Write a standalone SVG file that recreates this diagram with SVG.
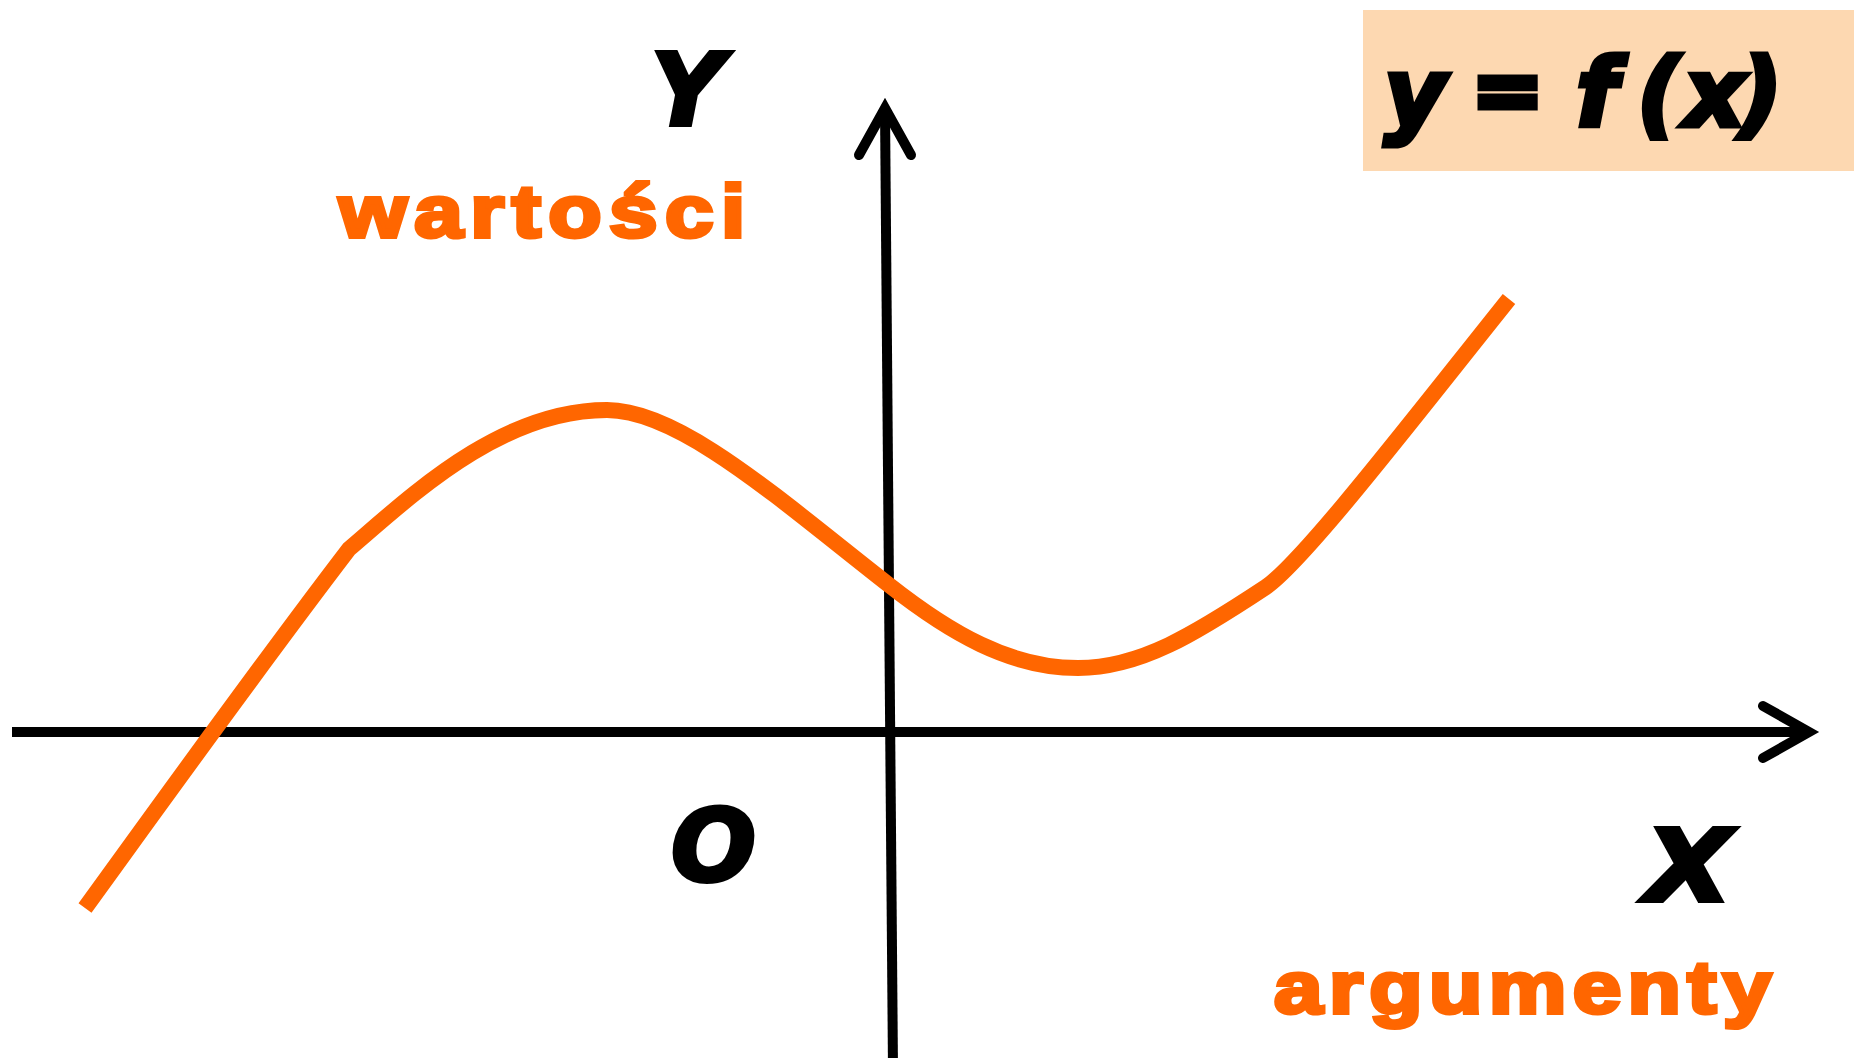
<svg xmlns="http://www.w3.org/2000/svg" width="1854" height="1058" viewBox="0 0 1854 1058">
<style>
.axis{stroke:#000;stroke-width:10;fill:none}
.head{stroke:#000;stroke-width:10;fill:none;stroke-linecap:round;stroke-linejoin:miter;stroke-miterlimit:10}
.lbl{font-family:"DejaVu Sans",sans-serif;font-weight:bold;font-style:italic;font-size:100px;fill:#000;stroke:#000;stroke-width:4;stroke-linejoin:miter}
.fx{font-size:95px;stroke-width:5}
.word{font-family:"Liberation Sans",Arial,sans-serif;font-weight:bold;font-size:74px;fill:#FF6600;stroke:#FF6600;stroke-width:4;stroke-linejoin:miter}
.curve{stroke:#FF6600;stroke-width:16;fill:none;stroke-linecap:butt}
</style>
<rect width="1854" height="1058" fill="#fff"/>
<g id="formula">
<rect x="1363" y="10" width="491" height="161" fill="#FDD8B1"/>
<text class="lbl fx"><tspan x="1384" y="126">y</tspan><tspan x="1472" y="119" font-size="85" stroke-width="7">=</tspan><tspan x="1576" y="126">f</tspan><tspan x="1637" y="126">(</tspan><tspan x="1684" y="126">x</tspan><tspan x="1739" y="126">)</tspan></text>
</g>
<g id="connectors">
<line class="axis" x1="12" y1="732" x2="1808" y2="732"/>
<polyline class="head" points="1763,706 1809,732 1763,758"/>
<line class="axis" x1="885" y1="109" x2="893" y2="1070"/>
<polyline class="head" points="859,155 885,108 911,155"/>
</g>
<g id="function-curve">
<path class="curve" d="M85 908 C172 788 258 668 349 549 C410 497 500 410 607 410 C680 410 780 500 889 585 C950 633 1010 668 1078 668 C1140 668 1195 634 1266 587 C1305 560 1420 410 1509 299"/>
</g>
<g id="label-y"><text class="lbl" x="651" y="125" font-size="95">Y</text></g>
<g id="label-x"><text class="lbl" transform="translate(1645,901) scale(1.13,1)" x="0" y="0" font-size="95">X</text></g>
<g id="label-o"><text class="lbl" x="671" y="881" font-size="85">O</text></g>
<g id="label-wartosci"><text class="word" transform="translate(339,237) scale(1.18,1)" x="0" y="0" letter-spacing="6.3">wartości</text></g>
<g id="label-argumenty"><text class="word" transform="translate(1274,1013) scale(1.18,1)" x="0" y="0" letter-spacing="5.4">argumenty</text></g>
</svg>
